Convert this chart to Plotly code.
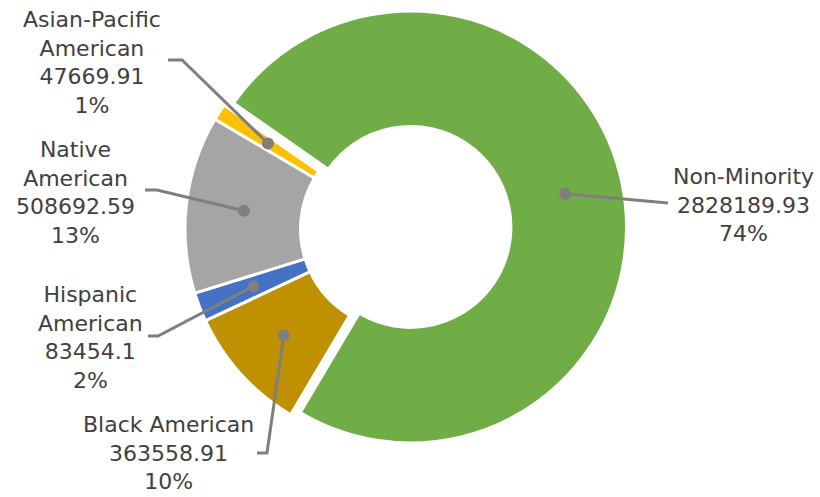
import math
import plotly.graph_objects as go

# ---- data ----
categories = ["Non-Minority", "Black American", "Hispanic American", "Native American", "Asian-Pacific American"]
label_text = ["Non-Minority", "Black American", "Hispanic<br>American", "Native<br>American", "Asian-Pacific<br>American"]
values = [2828189.93, 363558.91, 83454.1, 508692.59, 47669.91]
percent_labels = ["74%", "10%", "2%", "13%", "1%"]
value_labels = ["2828189.93", "363558.91", "83454.1", "508692.59", "47669.91"]
colors = ["#70AD47", "#BF9000", "#4472C4", "#A5A5A5", "#FFC000"]
pulls = [0.045, 0, 0, 0, 0]

W, H = 820, 497
ROT = -55
HOLE = 0.465
R_TARGET = 216
CX, CY = 401, 229
half = R_TARGET * (1 + max(pulls))
dom_x = [(CX - half) / W, (CX + half) / W]
dom_y = [1 - (CY + half) / H, 1 - (CY - half) / H]

fig = go.Figure()
fig.add_trace(go.Pie(
    labels=categories, values=values, sort=False, direction="clockwise",
    rotation=ROT, hole=HOLE, pull=pulls,
    marker=dict(colors=colors, line=dict(color="white", width=3)),
    textinfo="none", hoverinfo="label+value+percent", showlegend=False,
    domain=dict(x=dom_x, y=dom_y),
))

# geometry of the pie in pixels (as plotly computes it)
cx = W * (dom_x[0] + dom_x[1]) / 2
cy = H * (1 - (dom_y[0] + dom_y[1]) / 2)
R = min(W * (dom_x[1] - dom_x[0]), H * (dom_y[1] - dom_y[0])) / 2 / (1 + max(pulls))
r_mid = R * (1 + HOLE) / 2

# label layout (pixel positions of text blocks and leader-line ends)
label_pos = [(743, 205), (168, 453), (90, 337), (75, 192), (92, 62)]
leader_end = [[(668, 203)], [(257, 453), (267, 453)], [(148, 336), (158, 336)],
              [(145, 190), (157, 190)], [(168, 60), (182, 60)]]

def px(x, y):
    return x / W, 1 - y / H

total = sum(values)
cum = 0
shapes = []
annotations = []
LC = "#7F7F7F"
for i, v in enumerate(values):
    mid = math.radians(ROT + 360 * (cum + v / 2) / total)
    cum += v
    off = pulls[i] * R
    dxp = (r_mid + off) * math.sin(mid)
    dyp = -(r_mid + off) * math.cos(mid)
    dot = (cx + dxp, cy + dyp)
    pts = leader_end[i] + [dot]
    path = "M " + " L ".join(f"{px(*p)[0]},{px(*p)[1]}" for p in pts)
    shapes.append(dict(type="path", path=path, xref="paper", yref="paper",
                       line=dict(color=LC, width=3), layer="above"))
    rd = 6
    x0, y0 = px(dot[0] - rd, dot[1] + rd)
    x1, y1 = px(dot[0] + rd, dot[1] - rd)
    shapes.append(dict(type="circle", xref="paper", yref="paper", x0=x0, y0=y0, x1=x1, y1=y1,
                       fillcolor=LC, line=dict(color=LC, width=0), layer="above"))
    lx, ly = px(*label_pos[i])
    annotations.append(dict(
        x=lx, y=ly, xref="paper", yref="paper", showarrow=False,
        text=f"{label_text[i]}<br>{value_labels[i]}<br>{percent_labels[i]}",
        align="center", xanchor="center", yanchor="middle",
        font=dict(family="DejaVu Sans", size=22, color="#404040"),
    ))

fig.update_layout(
    width=W, height=H, margin=dict(l=0, r=0, t=0, b=0),
    paper_bgcolor="white", plot_bgcolor="white",
    shapes=shapes, annotations=annotations, showlegend=False,
)
fig.write_html("out.html", config={"displayModeBar": False},
               post_script="document.body.style.margin='0';")
